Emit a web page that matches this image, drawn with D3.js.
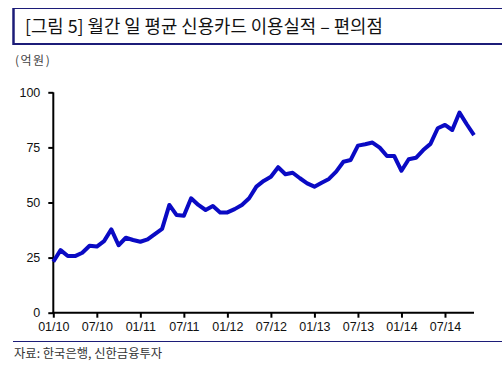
<!DOCTYPE html>
<html>
<head>
<meta charset="utf-8">
<script src="https://cdn.jsdelivr.net/npm/d3@7"></script>
<style>
  body { margin: 0; background: #fff; }
  svg { display: block; }
</style>
</head>
<body>
<div id="chart"></div>
<script>
// monthly avg daily card spending at convenience stores, 01/10 .. 11/14 (억원)
const months = [];
for (let y = 10; y <= 14; y++) {
  for (let m = 1; m <= 12; m++) {
    if (y === 14 && m > 11) break;
    months.push(String(m).padStart(2, '0') + '/' + y);
  }
}
const values = [
  23.1, 28.4, 25.7, 25.7, 27.2, 30.4, 30.0, 32.5, 37.8, 30.6, 34.0, 33.0,
  32.2, 33.3, 35.7, 38.0, 48.9, 44.3, 44.0, 51.9, 48.9, 46.6, 48.4, 45.5,
  45.5, 47.0, 48.9, 51.9, 57.2, 59.8, 61.7, 66.0, 62.8, 63.5, 61.0, 58.7,
  57.2, 59.0, 60.7, 64.0, 68.5, 69.3, 75.8, 76.4, 77.2, 74.9, 71.1, 71.1,
  64.4, 69.6, 70.3, 73.8, 76.6, 83.7, 85.2, 82.9, 90.8, 85.5, 80.6
];
const yTicks = [0, 25, 50, 75, 100];
const xTickLabels = ['01/10', '07/10', '01/11', '07/11', '01/12', '07/12', '01/13', '07/13', '01/14', '07/14'];

const titleText = '[그림 5] 월간 일 평균 신용카드 이용실적 – 편의점';
const unitText = '(억원)';
const sourceText = '자료: 한국은행, 신한금융투자';

const width = 502, height = 368;
const navy = '#1c1c78';
const kFont = '"Noto Sans CJK KR", "Noto Sans", sans-serif';
const nFont = '"Liberation Sans", Arial, sans-serif';

const svg = d3.select('#chart')
  .append('svg')
  .attr('width', width)
  .attr('height', height);

// title box
svg.append('rect')
  .attr('x', 13.5).attr('y', 8.5)
  .attr('width', 500).attr('height', 35)
  .attr('fill', 'none')
  .attr('stroke', navy)
  .attr('stroke-width', 1);
svg.append('line')
  .attr('x1', 13.5).attr('x2', 13.5).attr('y1', 8).attr('y2', 45)
  .attr('stroke', navy).attr('stroke-width', 2.5);
svg.append('line')
  .attr('x1', 13).attr('x2', 502).attr('y1', 44).attr('y2', 44)
  .attr('stroke', navy).attr('stroke-width', 2);

svg.append('text')
  .attr('x', 25).attr('y', 33)
  .attr('font-family', kFont)
  .attr('font-size', 17.8)
  .attr('fill', '#111')
  .text(titleText);

svg.append('text')
  .attr('x', 15).attr('y', 65)
  .attr('font-family', kFont)
  .attr('font-size', 12)
  .attr('letter-spacing', 1.5)
  .attr('fill', '#444')
  .text(unitText);

// scales
const x = d3.scaleLinear()
  .domain([0, values.length - 1])
  .range([53.3, 474]);
const y = d3.scaleLinear()
  .domain([0, 100])
  .range([312.7, 92.3]);

// y axis
const yAxis = svg.append('g')
  .attr('transform', 'translate(53.3,0)')
  .call(d3.axisLeft(y).tickValues(yTicks).tickSize(5).tickPadding(8));
yAxis.select('.domain').attr('d', `M0,${y(100)}V${y(0) + 1}`).attr('stroke-width', 2);
yAxis.selectAll('.tick line').attr('stroke-width', 2);
yAxis.selectAll('text')
  .attr('font-family', nFont)
  .attr('font-size', 12.5)
  .attr('fill', '#111');

// x axis, ticks every 6 months
const xTickIdx = xTickLabels.map(l => months.indexOf(l));
const xAxis = svg.append('g')
  .attr('transform', `translate(0,${y(0)})`)
  .call(d3.axisBottom(x).tickValues(xTickIdx).tickSize(5).tickPadding(4)
    .tickFormat((d, i) => xTickLabels[i]));
xAxis.select('.domain').attr('d', `M${x(0) - 1},0H${x(values.length - 1)}`).attr('stroke-width', 2);
xAxis.selectAll('.tick line').attr('stroke-width', 2);
xAxis.selectAll('text')
  .attr('font-family', nFont)
  .attr('font-size', 12.5)
  .attr('fill', '#111');

// data line
const line = d3.line()
  .x((d, i) => x(i))
  .y(d => y(d));

svg.append('path')
  .datum(values)
  .attr('d', line)
  .attr('fill', 'none')
  .attr('stroke', '#0a0ac4')
  .attr('stroke-width', 4)
  .attr('stroke-linejoin', 'round');

// source
svg.append('line')
  .attr('x1', 13).attr('x2', 502).attr('y1', 341.5).attr('y2', 341.5)
  .attr('stroke', navy).attr('stroke-width', 1);
svg.append('text')
  .attr('x', 14).attr('y', 358)
  .attr('font-family', kFont)
  .attr('font-size', 12.3)
  .attr('fill', '#333')
  .text(sourceText);
</script>
</body>
</html>
